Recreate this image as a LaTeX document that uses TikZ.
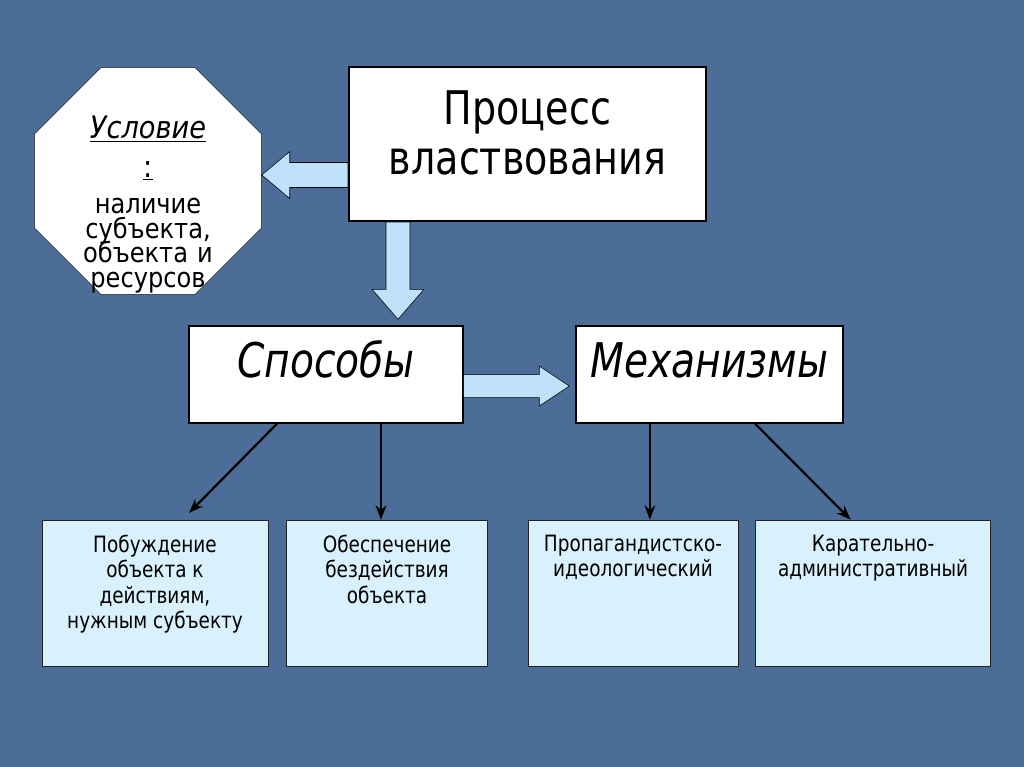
\documentclass[tikz,border=0pt]{standalone}
\usepackage{fontspec}
\setmainfont{DejaVu Sans}[FakeStretch=0.82]
\newfontfamily\wideface{DejaVu Sans}[FakeStretch=0.88]
\usetikzlibrary{arrows.meta, positioning, shapes.geometric, calc}
\usepackage{xcolor}
\definecolor{slate}{HTML}{4C6D98}
\definecolor{skyblue}{HTML}{BFE1F9}
\definecolor{paleblue}{HTML}{D9F1FD}
\definecolor{black90}{HTML}{222222}

% text pinned to the top of a box
\newcommand{\toptext}[4]{\parbox[c][#1][t]{#2}{\centering\vspace*{#3}#4}}

\begin{document}
\begin{tikzpicture}[
    >=Stealth,
    octo/.style={
        draw=black90,
        thin,
        fill=white,
        regular polygon,
        regular polygon sides=8,
        minimum size=6.14cm,
        inner sep=0pt,
    },
    octotext/.style={
        inner sep=0pt,
        text width=5.6cm,
        align=center,
        anchor=north,
        font={\wideface\fontsize{19.5}{17.6}\selectfont\lineskiplimit=-50pt},
    },
    mainbox/.style={
        draw=black,
        line width=1.4pt,
        fill=white,
        inner sep=0pt,
        minimum width=8.925cm,
        minimum height=3.85cm,
        font=\fontsize{33}{35.6}\selectfont,
    },
    midbox/.style={
        draw=black,
        line width=1pt,
        fill=white,
        inner xsep=0pt,
        inner ysep=0pt,
        text height=1.28cm,
        text depth=1.145cm,
        font=\fontsize{34}{40}\selectfont\itshape,
    },
    leafbox/.style={
        draw=black90,
        thin,
        fill=paleblue,
        inner sep=0pt,
        minimum height=3.65cm,
        font=\fontsize{16}{18}\selectfont,
    },
    fatarrow/.style={
        draw=black,
        thin,
        fill=skyblue,
    },
    link/.style={
        ->,
        line width=1.6pt,
    },
]

% --- Background ---
\useasboundingbox (0,0) rectangle (25.6,-19.175);
\fill[slate] (0,0) rectangle (25.6,-19.175);

% --- Top row ---
\node[octo] (cond) at (3.7,-4.525) {};
\node[octotext] (condtext) at (3.7,-2.89) {
    {\fontsize{22}{17.6}\selectfont\underline{\textit{Условие}}\\[10.1pt]
    \underline{:}}\\[8pt]
    наличие\\
    субъекта,\\
    объекта и\\
    ресурсов
};

\node[mainbox] (proc) at (13.1875,-3.6) {
    \toptext{3.85cm}{8.5cm}{0.6cm}{Процесс\\властвования}
};

% --- Middle row ---
\node[midbox, minimum width=6.85cm] (sposob) at (8.15,-9.3625) {Способы};
\node[midbox, minimum width=6.675cm] (mech) at (17.7375,-9.3625) {Механизмы};

% --- Bottom row ---
\node[leafbox, minimum width=5.65cm] (pa) at (3.875,-14.825) {
    \toptext{3.65cm}{5.5cm}{0.38cm}{Побуждение\\объекта к\\действиям,\\нужным субъекту}
};
\node[leafbox, minimum width=5.025cm, right=0.45cm of pa] (pb) {
    \toptext{3.65cm}{4.9cm}{0.38cm}{Обеспечение\\бездействия\\объекта}
};
\node[leafbox, minimum width=5.25cm] (pc) at (15.825,-14.825) {
    \toptext{3.65cm}{5.1cm}{0.38cm}{Пропагандистско-\\идеологический}
};
\node[leafbox, minimum width=5.875cm, right=0.425cm of pc] (pd) {
    \toptext{3.65cm}{5.7cm}{0.38cm}{Карательно-\\административный}
};

% --- Block arrows ---
% Process -> Condition (pointing left)
\coordinate (lefttip) at ([yshift=0.15cm]cond.east);
\draw[fatarrow]
    (lefttip) -- ++(0.7,0.5875) -- ++(0,-0.275)
    -- ([yshift=0.3125cm]lefttip -| proc.west)
    -- ([yshift=-0.3125cm]lefttip -| proc.west)
    -- ($(lefttip)+(0.7,-0.3125)$) -- ($(lefttip)+(0.7,-0.5875)$) -- cycle;

% Process -> Ways (pointing down)
\coordinate (downtip) at ([xshift=1.8cm,yshift=0.15cm]sposob.north);
\draw[fatarrow]
    (downtip) -- ++(-0.65,0.75) -- ++(0.35,0)
    -- ([xshift=-0.3cm]downtip |- proc.south)
    -- ([xshift=0.3cm]downtip |- proc.south)
    -- ($(downtip)+(0.3,0.75)$) -- ($(downtip)+(0.65,0.75)$) -- cycle;

% Ways -> Mechanisms (pointing right)
\coordinate (righttip) at ([xshift=-0.15cm,yshift=-0.29cm]mech.west);
\draw[fatarrow]
    (righttip) -- ++(-0.75,0.5) -- ++(0,-0.2125)
    -- ([yshift=0.2875cm]righttip -| sposob.east)
    -- ([yshift=-0.2875cm]righttip -| sposob.east)
    -- ($(righttip)+(-0.75,-0.2875)$) -- ($(righttip)+(-0.75,-0.5)$) -- cycle;

% --- Links to the bottom row ---
\draw[link] ([xshift=-1.225cm]sposob.south) -- ([xshift=0.85cm,yshift=0.17cm]pa.north);
\draw[link] ([xshift=1.375cm]sposob.south) -- ([xshift=1.375cm]sposob.south |- pb.north);
\draw[link] ([xshift=-1.49cm]mech.south) -- ([xshift=-1.49cm]mech.south |- pc.north);
\draw[link] ([xshift=1.14cm]mech.south) -- ([xshift=-0.56cm]pd.north);

\end{tikzpicture}
\end{document}
